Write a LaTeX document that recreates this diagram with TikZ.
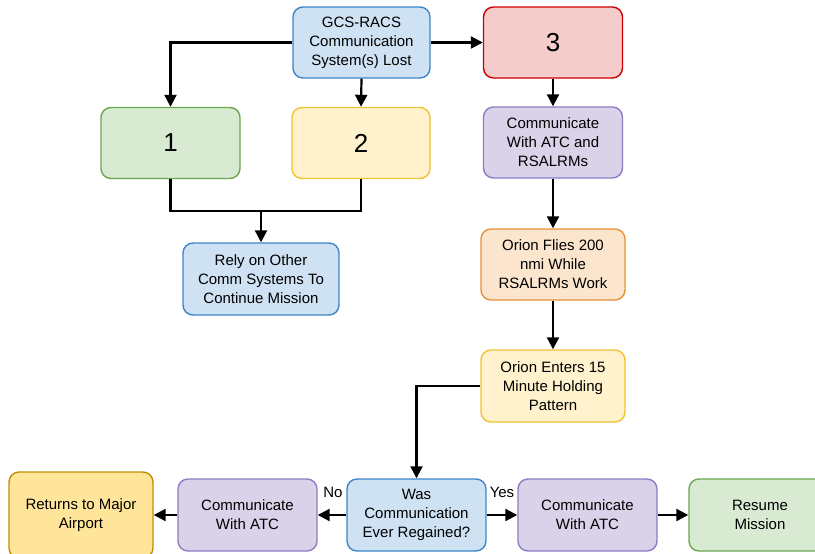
\documentclass[tikz,border=0pt]{standalone}
\usepackage{fontspec}
\setmainfont{Liberation Sans}
\usetikzlibrary{arrows.meta}
\definecolor{bfill}{HTML}{CFE2F3}\definecolor{bline}{HTML}{3D85C6}
\definecolor{gfill}{HTML}{D9EAD3}\definecolor{gline}{HTML}{6AA84F}
\definecolor{rfill}{HTML}{F4CCCC}\definecolor{rline}{HTML}{CC0000}
\definecolor{yfill}{HTML}{FFF2CC}\definecolor{yline}{HTML}{F1C232}
\definecolor{pfill}{HTML}{D9D2E9}\definecolor{pline}{HTML}{8E7CC3}
\definecolor{ofill}{HTML}{FCE5CD}\definecolor{oline}{HTML}{E69138}
\definecolor{dyfill}{HTML}{FFE599}\definecolor{dyline}{HTML}{BF9000}
\begin{document}
\begin{tikzpicture}[x=1pt,y=-1pt,
  box/.style={draw, rounded corners=10pt, line width=1.4pt, align=center, inner sep=0pt,
    font=\fontsize{15}{19}\selectfont, minimum width=139pt, minimum height=71pt},
  bluebox/.style={box, fill=bfill, draw=bline},
  greenbox/.style={box, fill=gfill, draw=gline},
  redbox/.style={box, fill=rfill, draw=rline},
  yellowbox/.style={box, fill=yfill, draw=yline},
  purplebox/.style={box, fill=pfill, draw=pline},
  orangebox/.style={box, fill=ofill, draw=oline},
  goldbox/.style={box, fill=dyfill, draw=dyline},
  conn/.style={line width=2.2pt, -{Triangle[length=12pt,width=12pt]}},
  plain/.style={line width=2.2pt},
  lbl/.style={font=\fontsize{15}{17}\selectfont, inner sep=0pt}
]
\useasboundingbox (0,0) rectangle (815,554);
\fill[white] (0,0) rectangle (815,554);
\clip (0,0) rectangle (815,554);

\node[bluebox, minimum width=137pt] (gcs) at (361.5,42.5) {GCS-RACS\\Communication\\System(s) Lost};
\node[redbox] (three) at (553,42.5) {\fontsize{26}{30}\selectfont 3};
\node[greenbox] (one) at (170.5,143) {\fontsize{26}{30}\selectfont 1};
\node[yellowbox, minimum width=138pt] (two) at (361,143) {\fontsize{26}{30}\selectfont 2};
\node[purplebox] (atc) at (553,142.5) {Communicate\\With ATC and\\RSALRMs};
\node[bluebox, minimum width=156pt, minimum height=72pt] (rely) at (261,279) {Rely on Other\\Comm Systems To\\Continue Mission};
\node[orangebox, minimum width=144pt] (flies) at (553,264.5) {Orion Flies 200\\nmi While\\RSALRMs Work};
\node[yellowbox, minimum width=144pt, minimum height=72pt] (enters) at (553,386) {Orion Enters 15\\Minute Holding\\Pattern};
\node[bluebox, minimum height=72pt] (was) at (416.5,515) {Was\\Communication\\Ever Regained?};
\node[purplebox, minimum height=72pt] (catcl) at (247.5,515) {Communicate\\With ATC};
\node[goldbox, minimum width=144pt, minimum height=86pt] (ret) at (81,515) {Returns to Major\\Airport};
\node[purplebox, minimum height=72pt] (catcr) at (587.5,515) {Communicate\\With ATC};
\node[greenbox, minimum width=142pt, minimum height=72pt] (res) at (760,515) {Resume\\Mission};

\coordinate (split) at (261,211);
\draw[conn] (gcs.west) -| (one.north);
\draw[conn] (gcs.south) -- (two.north);
\draw[conn] (gcs.east) -- (three.west);
\draw[conn] (three.south) -- (atc.north);
\draw[conn] (atc.south) -- (flies.north);
\draw[conn] (flies.south) -- (enters.north);
\draw[conn] (enters.west) -| (was.north);
\draw[plain] (one.south) |- (split) -| (two.south);
\draw[conn] (split) -- (rely.north);
\draw[conn] (was.west) -- (catcl.east);
\draw[conn] (catcl.west) -- (ret.east);
\draw[conn] (was.east) -- (catcr.west);
\draw[conn] (catcr.east) -- (res.west);
\node[lbl] (no) at (333,492) {No};
\node[lbl] (yes) at (502,492) {Yes};
\end{tikzpicture}
\end{document}
